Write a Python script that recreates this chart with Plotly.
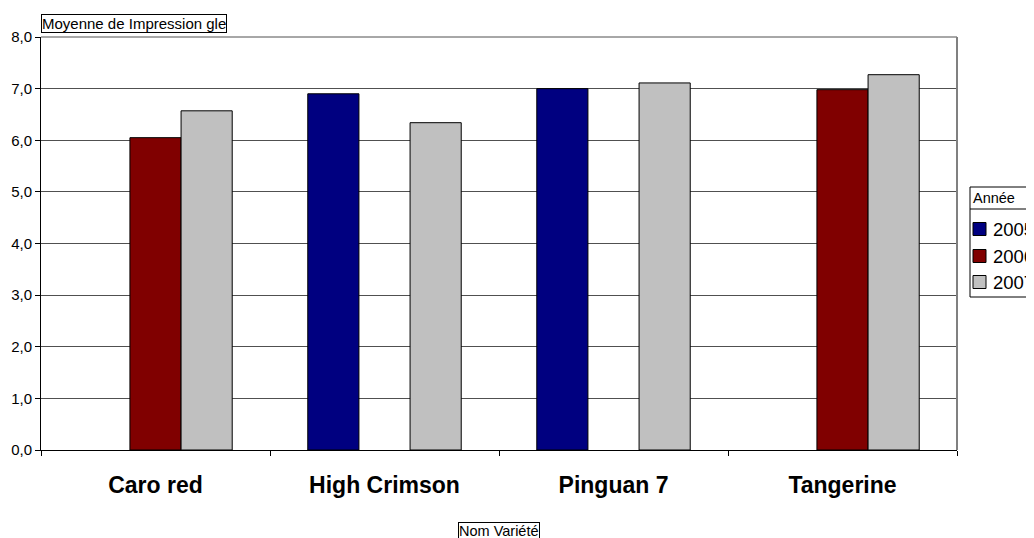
import plotly.graph_objects as go

categories = ["Caro red", "High Crimson", "Pinguan 7", "Tangerine"]
years = ["2005", "2006", "2007"]
v2005 = [None, 6.90, 7.00, None]
v2006 = [6.05, None, None, 6.98]
v2007 = [6.57, 6.34, 7.11, 7.27]
colors = ["#000080", "#800000", "#C0C0C0"]
y_ticks = [0, 1, 2, 3, 4, 5, 6, 7, 8]

W, H = 1034, 538
L, T, PW, PH = 33, 29, 916, 413
R = W - L - PW
B = H - T - PH


def px(fx):
    return (fx - L) / PW


def py(fy):
    return (T + PH - fy) / PH


fig = go.Figure()
for name, vals, c in zip(years, [v2005, v2006, v2007], colors):
    fig.add_trace(go.Bar(x=categories, y=vals, name=name, marker_color=c,
                         marker_line_color="#000000", marker_line_width=1,
                         showlegend=False))

FONT = "Arial, Liberation Sans, sans-serif"
fig.update_layout(
    width=W, height=H,
    barmode="group", bargap=0.33, bargroupgap=0,
    separators=",.",
    plot_bgcolor="white", paper_bgcolor="white",
    margin=dict(l=L, r=R, t=T, b=B, autoexpand=False),
    font=dict(family=FONT, color="black"),
    showlegend=False,
)
fig.update_yaxes(range=[0, 8], tickvals=y_ticks, tickformat=".1f",
                 showgrid=True, gridcolor="#505050", gridwidth=1,
                 showline=True, linecolor="black", linewidth=1,
                 ticks="outside", ticklen=5, tickcolor="black",
                 tickfont=dict(size=15), zeroline=False)
fig.update_xaxes(showline=True, linecolor="black", linewidth=1,
                 ticks="outside", tickson="boundaries", ticklen=5, tickcolor="black",
                 tickfont=dict(size=23, family=FONT), ticklabelstandoff=14,
                 ticktext=["<b>%s</b>" % c for c in categories], tickvals=categories,
                 showgrid=False)

# top gridline and right plot-area border
fig.add_shape(type="line", xref="paper", yref="paper", x0=0, x1=1, y0=1, y1=1,
              line=dict(color="#505050", width=1))
fig.add_shape(type="line", xref="paper", yref="paper", x0=1, x1=1, y0=0, y1=1,
              line=dict(color="#808080", width=2))

# axis titles (boxed)
fig.add_annotation(text="Moyenne de Impression gle", xref="paper", yref="paper",
                   x=0, y=py(6), xanchor="left", yanchor="top",
                   showarrow=False, font=dict(size=15), bordercolor="black",
                   borderwidth=1, borderpad=0, bgcolor="white")
fig.add_annotation(text="Nom Variété", xref="paper", yref="paper",
                   x=0.5, y=py(514), xanchor="center", yanchor="top",
                   showarrow=False, font=dict(size=14.5), bordercolor="black",
                   borderwidth=1, borderpad=0, bgcolor="white")

# legend
lx0, ly0, ly1, lsep = 962, 179, 289, 201
fig.add_shape(type="rect", xref="paper", yref="paper", x0=px(lx0), x1=px(1045),
              y0=py(ly0), y1=py(ly1), line=dict(color="black", width=1),
              fillcolor="white", layer="above")
fig.add_shape(type="line", xref="paper", yref="paper", x0=px(lx0), x1=px(1045),
              y0=py(lsep), y1=py(lsep), line=dict(color="black", width=1))
fig.add_annotation(text="Année", xref="paper", yref="paper", x=px(lx0 + 1),
                   y=py(190), xanchor="left", yanchor="middle", showarrow=False,
                   font=dict(size=14.5))
item_y = [221, 248, 274]
for name, c, iy in zip(years, colors, item_y):
    fig.add_shape(type="rect", xref="paper", yref="paper", x0=px(965), x1=px(978),
                  y0=py(iy - 6.5), y1=py(iy + 6.5), fillcolor=c,
                  line=dict(color="black", width=1), layer="above")
    fig.add_annotation(text=name, xref="paper", yref="paper", x=px(983),
                       y=py(iy), xanchor="left", yanchor="middle", showarrow=False,
                       font=dict(size=18.5))

fig.write_html("out.html")
